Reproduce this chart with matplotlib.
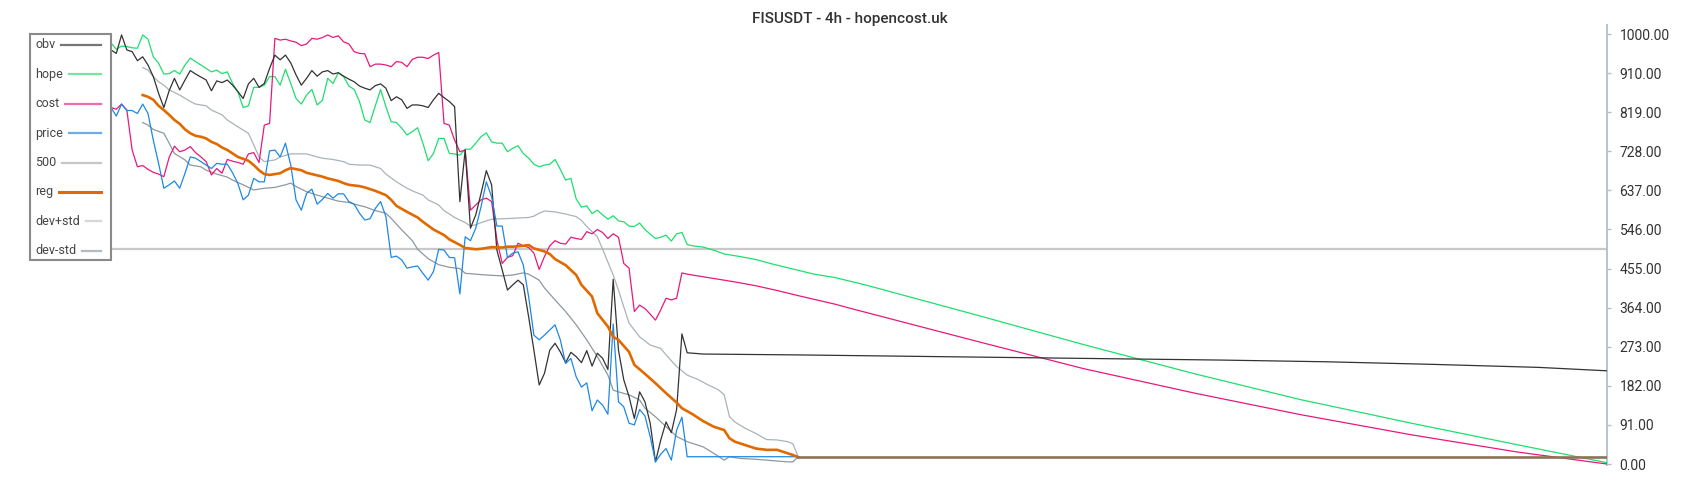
import matplotlib
matplotlib.use('Agg')
import matplotlib.pyplot as plt
from matplotlib.lines import Line2D
from matplotlib.patches import Rectangle
from matplotlib.ticker import FormatStrFormatter

# --- basic settings ---
plt.rcParams['font.family'] = ['Roboto', 'DejaVu Sans']

# --- data (bar index -> value, 0..1000 scale) ---
obv_bars = [0, 1, 2, 3, 4, 5, 6, 7, 8, 9, 10, 11, 12, 13, 14, 15, 16, 18, 19, 20,
            21, 22, 23, 24, 25, 26, 27, 28, 29, 30, 31, 32, 33, 34, 35, 36, 37, 38, 39, 40,
            41, 42, 43, 44, 45, 46, 47, 48, 49, 50, 51, 52, 53, 54, 55, 56, 57, 58, 59, 60,
            61, 62, 63, 64, 65, 66, 67, 68, 69, 70, 71, 72, 73, 74, 75, 76, 77, 78, 79, 80,
            81, 82, 83, 84, 85, 86, 87, 88, 89, 90, 91, 92, 93, 94, 95, 96, 97, 98, 99, 100,
            101, 102, 103, 104, 105, 106, 107, 108, 109, 112, 130, 150, 170, 190, 210, 230,
            250, 270, 283]
obv_vals = [964, 956, 999, 964, 960, 939, 948, 929, 902, 863, 830, 869, 898, 871, 894, 916, 908, 894, 869, 892,
            888, 894, 882, 867, 851, 885, 898, 877, 886, 921, 952, 941, 952, 934, 906, 882, 898, 916, 903, 913,
            916, 908, 911, 903, 896, 890, 880, 875, 871, 881, 885, 875, 846, 855, 848, 828, 836, 836, 834, 830,
            848, 863, 853, 844, 832, 611, 731, 549, 580, 630, 683, 650, 498, 452, 405, 417, 428, 417, 343, 265,
            184, 211, 265, 281, 261, 236, 260, 250, 236, 264, 228, 258, 246, 220, 430, 265, 196, 157, 106, 168,
            145, 95, 5, 56, 98, 73, 127, 303, 259, 256, 254, 251, 248, 245, 242, 238,
            232, 225, 217]

hope_bars = list(range(0, 111)) + [112, 114, 116, 119, 122, 125, 129, 133, 137, 143, 164, 184,
                                   205, 225, 246, 266, 283]
hope_vals = [980, 966, 973, 972, 969, 968, 999, 989, 948, 933, 908, 909, 916, 908, 929, 945, 937, 929, 921, 913,
             917, 909, 913, 886, 867, 830, 834, 877, 877, 882, 902, 902, 882, 919, 886, 851, 838, 859, 872, 836,
             847, 898, 886, 911, 902, 880, 872, 844, 801, 795, 834, 872, 832, 797, 795, 782, 766, 774, 783, 747,
             706, 723, 758, 758, 723, 722, 719, 733, 733, 747, 762, 771, 750, 747, 747, 727, 735, 741, 723, 712,
             698, 692, 696, 698, 709, 686, 661, 665, 617, 598, 601, 583, 591, 580, 570, 578, 566, 564, 554, 553,
             561, 546, 535, 525, 528, 533, 519, 536, 539, 511, 508,
             505, 498, 489, 483, 476, 466, 454, 442, 434, 416, 346, 278,
             210, 150, 95, 45, 3]

cost_bars = list(range(0, 110)) + [112, 115, 118, 122, 126, 130, 137, 140, 164, 184, 205, 225,
                                   246, 266, 283]
cost_vals = [830, 826, 838, 824, 731, 692, 695, 686, 679, 675, 669, 714, 740, 727, 731, 739, 725, 715, 704, 673,
             688, 677, 709, 705, 702, 698, 722, 725, 702, 789, 793, 991, 987, 989, 985, 982, 974, 978, 991, 989,
             993, 999, 993, 997, 983, 978, 960, 956, 955, 925, 931, 931, 929, 925, 937, 935, 925, 942, 947, 947,
             944, 952, 958, 793, 789, 754, 727, 731, 591, 603, 615, 619, 611, 522, 467, 481, 485, 514, 508, 504,
             491, 453, 483, 508, 520, 514, 512, 528, 525, 523, 541, 536, 546, 539, 525, 536, 528, 467, 456, 355,
             370, 362, 349, 335, 359, 386, 382, 386, 445, 442,
             436, 430, 424, 415, 404, 392, 372, 362, 285, 222, 165, 115,
             68, 28, 0]

price_bars = list(range(0, 110)) + [130]
price_vals = [830, 810, 838, 823, 823, 816, 838, 816, 754, 700, 642, 650, 659, 642, 677, 715, 712, 704, 696, 688,
              700, 698, 698, 678, 653, 615, 626, 665, 657, 657, 729, 731, 715, 747, 696, 615, 591, 630, 640, 605,
              616, 630, 619, 629, 629, 611, 605, 584, 568, 571, 595, 611, 576, 481, 484, 475, 456, 459, 461, 444,
              428, 448, 500, 498, 481, 480, 396, 529, 520, 549, 599, 657, 622, 554, 554, 481, 491, 494, 463, 390,
              300, 289, 300, 312, 324, 289, 234, 246, 203, 179, 189, 124, 149, 137, 116, 326, 145, 133, 95, 91,
              127, 112, 64, 5, 23, 36, 9, 79, 109, 17,
              17]

reg_bars = [6, 7, 8, 9, 10, 11, 12, 13, 14, 15, 16, 17, 18, 19, 20, 21, 22, 23, 24, 26,
            27, 28, 29, 30, 32, 33, 34, 36, 37, 38, 40, 41, 43, 44, 45, 47, 48, 49, 50, 52,
            53, 54, 56, 58, 59, 61, 63, 64, 66, 67, 69, 70, 72, 74, 75, 76, 78, 79, 80, 82,
            83, 84, 86, 88, 89, 91, 92, 94, 95, 96, 98, 99, 101, 103, 105, 107, 108, 110, 112, 114,
            116, 117, 118, 120, 122, 124, 126, 127, 129, 130]
reg_vals = [859, 855, 848, 834, 824, 813, 801, 792, 779, 770, 764, 762, 758, 750, 745, 737, 731, 723, 715, 706,
            696, 684, 675, 673, 677, 684, 689, 684, 678, 675, 669, 665, 659, 654, 650, 647, 644, 640, 636, 626,
            615, 601, 587, 574, 564, 546, 533, 523, 510, 503, 500, 501, 505, 504, 506, 506, 508, 510, 502, 495,
            489, 477, 463, 440, 417, 390, 351, 320, 296, 289, 261, 231, 210, 188, 165, 143, 130, 116, 100, 87,
            79, 60, 52, 44, 36, 33, 33, 29, 21, 16]

dev_up_bars = [6, 7, 8, 9, 10, 11, 13, 15, 16, 18, 19, 21, 22, 24, 26, 27, 28, 29, 31, 32,
               34, 36, 37, 39, 40, 42, 44, 45, 47, 49, 51, 52, 54, 56, 57, 59, 60, 62, 63, 65,
               67, 68, 69, 70, 72, 74, 76, 79, 80, 81, 82, 84, 86, 88, 89, 90, 92, 93, 94, 95,
               96, 97, 98, 100, 102, 104, 105, 107, 109, 111, 113, 115, 116, 117, 118, 120, 122, 124, 126, 128,
               129, 130]
dev_up_vals = [923, 917, 902, 890, 882, 871, 859, 844, 838, 834, 824, 813, 801, 785, 770, 743, 715, 704, 708, 715,
               722, 722, 722, 715, 712, 709, 704, 698, 696, 696, 688, 675, 657, 642, 636, 626, 615, 603, 590, 574,
               562, 554, 557, 562, 570, 571, 572, 574, 577, 584, 589, 587, 582, 576, 567, 553, 529, 500, 470, 440,
               405, 366, 328, 296, 277, 269, 254, 227, 207, 197, 184, 172, 161, 110, 98, 83, 71, 57, 56, 52,
               47, 17]

dev_dn_bars = [6, 7, 8, 10, 11, 12, 14, 15, 17, 18, 20, 22, 23, 25, 27, 29, 31, 33, 34, 35,
               37, 39, 41, 43, 45, 46, 48, 50, 52, 53, 55, 57, 58, 60, 62, 64, 66, 67, 69, 71,
               74, 76, 78, 79, 81, 82, 84, 86, 88, 90, 92, 94, 95, 96, 98, 100, 101, 103, 105, 107,
               109, 112, 114, 116, 117, 119, 122, 125, 128, 129, 130]
dev_dn_vals = [795, 789, 779, 770, 747, 723, 708, 696, 692, 684, 675, 668, 661, 650, 638, 642, 644, 650, 654, 646,
               634, 626, 619, 612, 609, 605, 599, 590, 584, 572, 545, 520, 500, 478, 464, 458, 455, 444, 442, 440,
               438, 440, 445, 442, 428, 410, 382, 355, 324, 289, 250, 207, 172, 168, 161, 149, 130, 110, 87, 64,
               52, 40, 25, 9, 17, 13, 11, 8, 5, 5, 17]

# flat tail after the regression runs out
tail_bars = [130, 283]
tail_vals = [17, 17]

# the 500 reference line
mid_bars = [0, 283]
mid_vals = [500, 500]

ytick_vals = [0, 91, 182, 273, 364, 455, 546, 637, 728, 819, 910, 1000]

legend_labels = ['obv', 'hope', 'cost', 'price', '500', 'reg', 'dev+std', 'dev-std']
legend_colors = ['#767676', '#74e6a2', '#ef6aa8', '#69aeea', '#c6c6c6', '#dc6a0c', '#d4d8db', '#b2bbc0']
legend_widths = [1.6, 1.6, 1.6, 1.6, 1.6, 2.2, 1.6, 1.6]

# --- figure ---
W, H = 1700, 500
fig = plt.figure(figsize=(W / 100, H / 100), dpi=100)
ax = fig.add_axes([111 / W, 1 - 465 / H, (1607 - 111) / W, 440 / H])

ax.plot(mid_bars, mid_vals, color='#c8c8c8', lw=1.6, zorder=1)
ax.plot(dev_up_bars, dev_up_vals, color='#a9b3b9', lw=0.9, zorder=2)
ax.plot(dev_dn_bars, dev_dn_vals, color='#8d989f', lw=0.9, zorder=2)
ax.plot(hope_bars, hope_vals, color='#1fde6e', lw=0.9, zorder=3)
ax.plot(cost_bars, cost_vals, color='#e8197c', lw=0.9, zorder=3)
ax.plot(obv_bars, obv_vals, color='#333333', lw=0.9, zorder=4)
ax.plot(price_bars, price_vals, color='#1e88e5', lw=0.9, zorder=4)
ax.plot(reg_bars, reg_vals, color='#e06a00', lw=1.9, zorder=5)
ax.plot(tail_bars, tail_vals, color='#8c7357', lw=1.9, zorder=5)

ax.set_xlim(0, 283)
ax.set_ylim(-2.3, 1022.1)

# right hand axis only
for side in ['left', 'top', 'bottom']:
    ax.spines[side].set_visible(False)
ax.spines['right'].set_color('#b3bec5')
ax.spines['right'].set_linewidth(1.3)
ax.set_xticks([])
ax.yaxis.tick_right()
ax.set_yticks(ytick_vals)
ax.yaxis.set_major_formatter(FormatStrFormatter('%.2f'))
ax.tick_params(axis='y', direction='out', length=3, width=1, colors='#b3bec5',
               labelcolor='#333333', labelsize=10, pad=6)

fig.text(0.5, 1 - 19.5 / H, 'FISUSDT - 4h - hopencost.uk', ha='center', va='center',
         fontsize=11, fontweight='medium', color='#333333')

# --- legend drawn by hand: text on the left, line sample ending at the right edge ---
box = Rectangle((30 / W, 1 - 260 / H), 81 / W, 226 / H, transform=fig.transFigure,
                facecolor='white', edgecolor='#8a8a8a', lw=1.5, zorder=10)
fig.patches.append(box)
fig.canvas.draw()
renderer = fig.canvas.get_renderer()
for i, (lab, col, lw) in enumerate(zip(legend_labels, legend_colors, legend_widths)):
    y = 45 + i * 29.4
    t = fig.text(35 / W, 1 - y / H, lab, ha='left', va='center', fontsize=9,
                 color='#444444', zorder=11)
    x_end_text = t.get_window_extent(renderer).x1
    fig.add_artist(Line2D([(x_end_text + 6) / W, 101 / W], [1 - y / H, 1 - y / H],
                          transform=fig.transFigure, color=col, lw=lw, zorder=11))

plt.savefig('out.png', dpi=100)
